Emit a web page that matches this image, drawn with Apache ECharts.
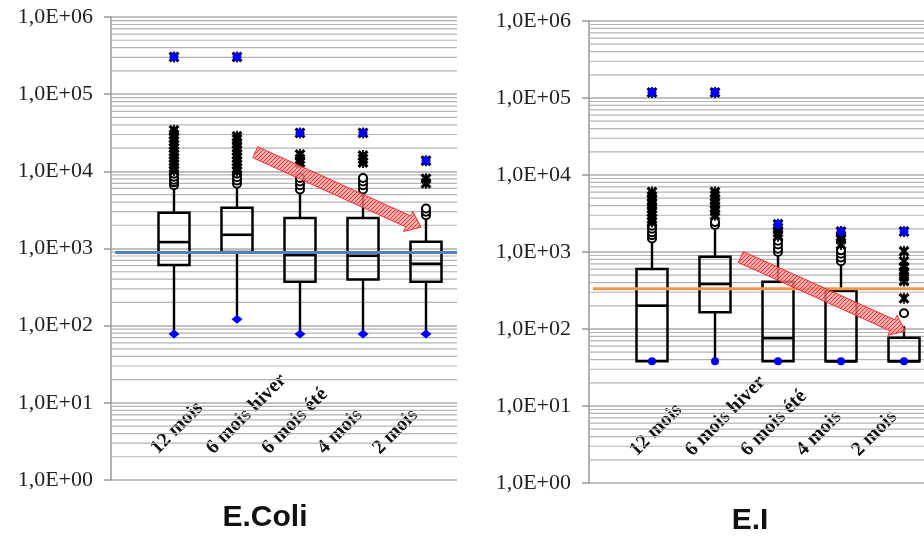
<!DOCTYPE html>
<html><head><meta charset="utf-8">
<script src="https://cdn.jsdelivr.net/npm/echarts/dist/echarts.min.js"></script>
<style>html,body{margin:0;padding:0;background:#fff}#c{width:924px;height:536px}</style>
</head><body><div id="c"></div>
<script>
// ---------- data ----------
const categories = ['12 mois', '6 mois hiver', '6 mois été', '4 mois', '2 mois'];
const yTickLabels = ['1,0E+00', '1,0E+01', '1,0E+02', '1,0E+03', '1,0E+04', '1,0E+05', '1,0E+06'];

// E.Coli
const ecoliMin = [78, 121, 78, 78, 78];
const ecoliQ1 = [610, 900, 370, 398, 370];
const ecoliMedian = [1210, 1505, 822, 805, 634];
const ecoliQ3 = [2900, 3370, 2480, 2480, 1222];
const ecoliWhiskerHigh = [6000, 6600, 5200, 5200, 2500];
const ecoliMax = [304000, 304000, 31500, 31500, 13700];
const ecoliMild = [
  [6600, 7200, 7800, 8500, 9300],
  [6900, 7600, 8400, 9300],
  [5800, 6600, 7400, 8200],
  [5800, 6600, 7400, 8200],
  [2700, 3000, 3300]
];
const ecoliExtreme = [
  [10200, 11200, 12300, 13500, 15000, 16500, 18000, 20000, 22000, 24500, 27000, 30000, 34000],
  [10000, 11000, 12200, 13500, 15000, 16500, 18500, 20500, 23000, 26000, 28500],
  [13000, 14500, 16500],
  [13000, 14500, 16000],
  [7000, 8000]
];
const ecoliReference = 890;
const ecoliArrow = [1.29, 17700, 3.92, 1890];

// E.I
const eiMin = [38, 38, 38, 38, 38];
const eiQ1 = [38, 165, 38, 38, 38];
const eiMedian = [201, 384, 76, 38, 38];
const eiQ3 = [601, 869, 412, 315, 77];
const eiWhiskerHigh = [1400, 1930, 870, 680, 109];
const eiMax = [118000, 118000, 2290, 1840, 1840];
const eiMild = [
  [1500, 1650, 1800, 2000, 2200],
  [2250, 2450],
  [1000, 1100, 1250, 1400],
  [760, 850, 950, 1050],
  [160]
];
const eiExtreme = [
  [2450, 2700, 3000, 3300, 3700, 4200, 4700, 5300, 6000],
  [3000, 3400, 3800, 4300, 4800, 5400, 6000],
  [1600, 1800, 2050],
  [1250, 1450, 1600],
  [250, 420, 480, 550, 640, 760, 1020]
];
const eiReference = 334;
const eiArrow = [1.41, 861, 4.02, 94];

// ---------- helpers ----------
const minorValues = [];
for (let n = 0; n < 6; n++) for (let k = 2; k <= 9; k++) minorValues.push(k * Math.pow(10, n));

const starPath = 'path://M2,0 L5,3 L8,0 L10,2 L7,5 L10,8 L8,10 L5,7 L2,10 L0,8 L3,5 L0,2 Z M4.2,0 L5.8,0 L5.8,10 L4.2,10 Z';

// hatch pattern for arrows
const pat = document.createElement('canvas');
pat.width = 4; pat.height = 4;
(function () {
  const g = pat.getContext('2d');
  g.fillStyle = 'rgba(255,150,150,0.75)';
  g.fillRect(0, 0, 4, 4);
  g.fillStyle = 'rgba(235,30,30,0.9)';
  g.fillRect(0, 0, 1, 1); g.fillRect(2, 2, 1, 1); g.fillRect(1, 3, 1, 1); g.fillRect(3, 1, 1, 1);
})();

function flatten(groups) {
  const out = [];
  groups.forEach((g, i) => g.forEach(v => out.push([i, v])));
  return out;
}

function gridLineRender(params, api) {
  const cs = params.coordSys;
  const y = api.coord([0, api.value(0)])[1];
  return { type: 'line', shape: { x1: cs.x, y1: y, x2: cs.x + cs.width, y2: y }, style: { stroke: '#b3b3b3', lineWidth: 1.2 } };
}

function boxRender(params, api) {
  const i = api.value(0);
  const yMin = api.coord([i, api.value(1)])[1];
  const yQ1 = api.coord([i, api.value(2)])[1];
  const c = api.coord([i, api.value(3)]);
  const yQ3 = api.coord([i, api.value(4)])[1];
  const yHi = api.coord([i, api.value(5)])[1];
  const x = c[0], yMed = c[1];
  const hw = 15.5;
  const children = [
    { type: 'line', shape: { x1: x, y1: yQ3, x2: x, y2: yHi }, style: { stroke: '#000', lineWidth: 2.4 } },
    { type: 'rect', shape: { x: x - hw, y: yQ3, width: 2 * hw, height: yQ1 - yQ3 }, style: { stroke: '#000', lineWidth: 2.5, fill: 'rgba(0,0,0,0)' } },
    { type: 'line', shape: { x1: x - hw, y1: yMed, x2: x + hw, y2: yMed }, style: { stroke: '#000', lineWidth: 2.6 } }
  ];
  if (yMin - yQ1 > 1) children.unshift({ type: 'line', shape: { x1: x, y1: yQ1, x2: x, y2: yMin }, style: { stroke: '#000', lineWidth: 2.4 } });
  return { type: 'group', children };
}

function makeArrowRender(spec) {
  return function (params, api) {
    const p0 = api.coord([0, spec[1]]);
    const p1 = api.coord([1, spec[1]]);
    const band = p1[0] - p0[0];
    const q0 = api.coord([0, spec[3]]);
    const T = [p0[0] + spec[0] * band, p0[1]];
    const P = [q0[0] + spec[2] * band, q0[1]];
    const dx = P[0] - T[0], dy = P[1] - T[1];
    const L = Math.sqrt(dx * dx + dy * dy);
    const u = [dx / L, dy / L], n = [-u[1], u[0]];
    const w = 6, hw = 11, hl = 14;
    const B = [P[0] - u[0] * hl, P[1] - u[1] * hl];
    const pt = (b, s) => [b[0] + n[0] * s, b[1] + n[1] * s];
    const pts = [pt(T, w), pt(B, w), pt(B, hw), P, pt(B, -hw), pt(B, -w), pt(T, -w)];
    return {
      type: 'polygon', shape: { points: pts },
      style: { fill: { image: pat, repeat: 'repeat' }, stroke: '#f03030', lineWidth: 1 }
    };
  };
}

const tickLabelStyle = { fontFamily: 'Liberation Serif', fontSize: 22, color: '#222', margin: 18 };
const labelStyle = { fontFamily: 'Liberation Serif', fontWeight: 'bold', fontSize: 20, color: '#111' };

function logAxis(gridIndex, show) {
  return {
    type: 'log', logBase: 10, min: 1, max: 1000000, gridIndex,
    show: show,
    axisLine: { show: show, lineStyle: { color: '#999', width: 1.5 } },
    axisTick: { show: show, length: 7, lineStyle: { color: '#999', width: 1.5 } },
    axisLabel: show ? Object.assign({ formatter: v => yTickLabels[Math.round(Math.log10(v))] }, tickLabelStyle) : { show: false },
    splitLine: { show: show, lineStyle: { color: '#ababab', width: 1.6 } },
    minorTick: { show: false }, minorSplitLine: { show: false }
  };
}

// grids: A = axis frame, B = data, C = category labels
const grids = [
  { left: 111, top: 17, width: 346, height: 463 },
  { left: 142.5, top: 17, width: 315, height: 463 },
  { left: 126.25, top: 17, width: 277.5, height: 463 },
  { left: 589, top: 21, width: 335, height: 462 },
  { left: 620.5, top: 21, width: 315, height: 462 },
  { left: 605.25, top: 21, width: 277.5, height: 462 }
].map(g => Object.assign({ outerBoundsMode: 'none', containLabel: false }, g));

const xAxes = [], yAxes = [];
[0, 3].forEach(base => {
  xAxes.push({ type: 'value', min: 0, max: 1, gridIndex: base, show: false });
  yAxes.push(logAxis(base, true));
  xAxes.push({ type: 'category', data: categories, gridIndex: base + 1, show: false, boundaryGap: true });
  yAxes.push(logAxis(base + 1, false));
  xAxes.push({
    type: 'category', data: categories, gridIndex: base + 2, boundaryGap: true,
    axisLine: { show: false }, axisTick: { show: false }, splitLine: { show: false },
    axisLabel: Object.assign({ inside: true, rotate: 45, interval: 0, margin: base === 0 ? 29 : 30 }, labelStyle)
  });
  yAxes.push({ type: 'value', gridIndex: base + 2, show: false });
});

function panelSeries(ax, mins, q1, med, q3, hi, maxs, mild, extreme, refVal, refColor, arrow, minSymbol, minSize) {
  const a = ax, b = ax + 1;
  return [
    { type: 'custom', xAxisIndex: a, yAxisIndex: a, renderItem: gridLineRender, silent: true, z: 1,
      encode: { y: 0 }, data: minorValues.map(v => [v]) },
    { type: 'custom', xAxisIndex: b, yAxisIndex: b, renderItem: boxRender, z: 2,
      encode: { x: 0, y: [1, 2, 3, 4, 5] },
      data: categories.map((c, i) => [i, mins[i], q1[i], med[i], q3[i], hi[i]]) },
    { type: 'line', xAxisIndex: a, yAxisIndex: a, data: [[0.012, refVal], [1, refVal]], symbol: 'none',
      lineStyle: { color: refColor, width: 3 }, z: 3, silent: true },
    { type: 'scatter', xAxisIndex: b, yAxisIndex: b, data: flatten(mild), symbol: 'circle', symbolSize: 8, z: 4,
      itemStyle: { color: '#fff', borderColor: '#000', borderWidth: 2, opacity: 1 } },
    { type: 'scatter', xAxisIndex: b, yAxisIndex: b, data: flatten(extreme).concat(maxs.map((v, i) => [i, v])),
      symbol: starPath, symbolSize: 11, z: 5, itemStyle: { color: '#000', opacity: 1 } },
    { type: 'scatter', xAxisIndex: b, yAxisIndex: b, data: maxs.map((v, i) => [i, v]), symbol: 'circle', symbolSize: 9, z: 6,
      itemStyle: { color: '#0000ff', opacity: 1 } },
    { type: 'scatter', xAxisIndex: b, yAxisIndex: b, data: mins.map((v, i) => [i, v]), symbol: minSymbol, symbolSize: minSize, z: 6,
      itemStyle: { color: '#0000ff', opacity: 1 } },
    { type: 'custom', xAxisIndex: b, yAxisIndex: b, data: [[0, 1]], renderItem: makeArrowRender(arrow), z: 7, silent: true }
  ];
}

const series = [].concat(
  panelSeries(0, ecoliMin, ecoliQ1, ecoliMedian, ecoliQ3, ecoliWhiskerHigh, ecoliMax, ecoliMild, ecoliExtreme, ecoliReference, '#4f81bd', ecoliArrow, 'diamond', [11, 9]),
  panelSeries(3, eiMin, eiQ1, eiMedian, eiQ3, eiWhiskerHigh, eiMax, eiMild, eiExtreme, eiReference, '#f79646', eiArrow, 'circle', 8)
);

const chart = echarts.init(document.getElementById('c'), null, { renderer: 'canvas' });
chart.setOption({
  animation: false,
  backgroundColor: '#fff',
  grid: grids,
  xAxis: xAxes,
  yAxis: yAxes,
  series: series,
  graphic: [
    { type: 'text', x: 265, y: 518, style: { text: 'E.Coli', textAlign: 'center', textVerticalAlign: 'middle', font: 'bold 30px "Liberation Sans"', fill: '#111' } },
    { type: 'text', x: 750, y: 521, style: { text: 'E.I', textAlign: 'center', textVerticalAlign: 'middle', font: 'bold 30px "Liberation Sans"', fill: '#111' } }
  ]
});
</script>
</body></html>
